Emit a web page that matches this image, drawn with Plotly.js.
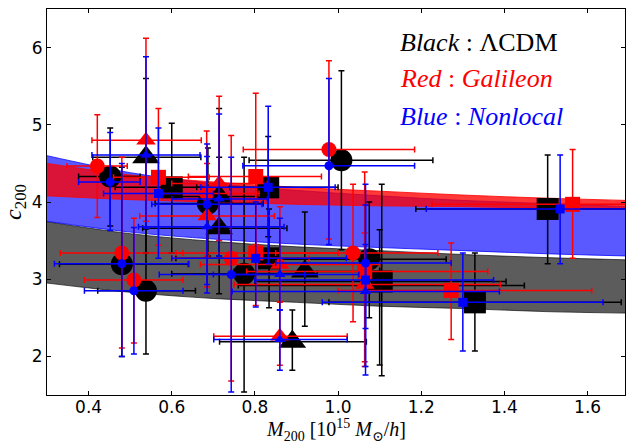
<!DOCTYPE html>
<html>
<head>
<meta charset="utf-8">
<script src="https://cdn.plot.ly/plotly-3.0.1.min.js"></script>
<style>html,body{margin:0;padding:0;background:#fff;}#chart{width:626px;height:445px;}</style>
</head>
<body>
<div id="chart"></div>
<script>
// ---- Model bands (c200 vs M200) ----
const bandX = [0.3, 0.5, 0.7, 0.9, 1.1, 1.3, 1.5, 1.7];
const lcdmLow = [2.95, 2.83, 2.75, 2.70, 2.65, 2.62, 2.58, 2.56];
const lcdmHigh = [3.745, 3.59, 3.49, 3.42, 3.37, 3.32, 3.28, 3.25];
const nonlocalLow = [3.75, 3.61, 3.52, 3.455, 3.41, 3.37, 3.33, 3.30];
const nonlocalHigh = [4.60, 4.38, 4.24, 4.15, 4.08, 4.02, 3.98, 3.94];
const galileonLow = [4.08, 4.03, 4.00, 3.97, 3.95, 3.94, 3.92, 3.91];
const galileonHigh = [4.50, 4.35, 4.26, 4.19, 4.14, 4.09, 4.05, 4.02];

// ---- Circle clusters ----
const circBlackX = [0.452, 0.480, 0.538, 0.687, 1.008, 0.774, 1.075];
const circBlackY = [4.33, 3.195, 2.85, 3.98, 4.54, 3.07, 3.26];
const circBlackXlo = [0.376, 0.33, 0.422, 0.56, 0.786, 0.60, 0.86];
const circBlackXhi = [0.524, 0.64, 0.657, 0.82, 1.228, 0.95, 1.26];
const circBlackYlo = [3.69, 2.0, 2.03, 3.3, 3.38, 1.54, 2.5];
const circBlackYhi = [4.96, 4.45, 3.65, 4.7, 5.70, 4.58, 4.0];

const circRedX = [0.421, 0.480, 0.509, 0.684, 0.978, 0.743, 1.036];
const circRedY = [4.465, 3.34, 2.99, 4.11, 4.68, 3.27, 3.34];
const circRedXlo = [0.348, 0.332, 0.39, 0.57, 0.772, 0.60, 0.85];
const circRedXhi = [0.493, 0.627, 0.627, 0.81, 1.184, 0.93, 1.24];
const circRedYlo = [3.80, 2.11, 2.175, 3.3, 3.52, 1.68, 2.45];
const circRedYhi = [5.13, 4.58, 3.79, 4.92, 5.83, 4.86, 4.23];

const circBlueX = [0.452, 0.480, 0.509, 0.685, 0.978, 0.743, 1.066];
const circBlueY = [4.26, 3.2, 2.85, 3.97, 4.47, 3.06, 3.21];
const circBlueXlo = [0.376, 0.318, 0.39, 0.552, 0.771, 0.57, 0.85];
const circBlueXhi = [0.524, 0.641, 0.627, 0.817, 1.184, 0.92, 1.272];
const circBlueYlo = [3.63, 2.0, 2.03, 2.93, 3.45, 1.54, 2.36];
const circBlueYhi = [4.90, 4.5, 3.67, 4.75, 5.60, 4.58, 4.23];

// ---- Square clusters ----
const sqBlackX = [0.600, 0.832, 0.834, 1.105, 1.329, 1.504];
const sqBlackY = [4.19, 4.19, 3.27, 2.97, 2.70, 3.91];
const sqBlackXlo = [0.464, 0.66, 0.61, 0.80, 0.978, 1.187];
const sqBlackXhi = [0.74, 1.0, 1.06, 1.404, 1.681, 1.8];
const sqBlackYlo = [3.34, 3.55, 2.63, 1.75, 2.07, 3.20];
const sqBlackYhi = [5.02, 4.85, 3.91, 4.23, 3.34, 4.61];

const sqRedX = [0.568, 0.802, 0.802, 1.064, 1.272, 1.564];
const sqRedY = [4.32, 4.33, 3.34, 3.10, 2.855, 3.97];
const sqRedXlo = [0.46, 0.64, 0.61, 0.78, 1.0, 1.226];
const sqRedXhi = [0.69, 0.96, 1.0, 1.36, 1.61, 1.8];
const sqRedYlo = [3.44, 3.45, 2.66, 1.93, 2.22, 3.27];
const sqRedYhi = [5.21, 5.41, 4.3, 4.39, 3.47, 4.68];

const sqBlueX = [0.568, 0.832, 0.802, 1.066, 1.300, 1.534];
const sqBlueY = [4.11, 4.19, 3.27, 2.99, 2.70, 3.91];
const sqBlueXlo = [0.436, 0.67, 0.6, 0.80, 0.962, 1.212];
const sqBlueXhi = [0.70, 0.993, 1.02, 1.374, 1.637, 1.8];
const sqBlueYlo = [3.27, 3.2, 2.64, 1.87, 2.07, 3.20];
const sqBlueYhi = [4.96, 5.24, 4.0, 3.96, 3.34, 4.61];

// ---- Triangle clusters ----
const triBlackX = [0.538, 0.714, 0.714, 0.920, 0.890, 1.100];
const triBlackY = [4.58, 4.07, 3.66, 3.10, 2.19, 2.92];
const triBlackXlo = [0.41, 0.6, 0.53, 0.75, 0.715, 0.76];
const triBlackXhi = [0.67, 0.83, 0.877, 1.1, 1.068, 1.448];
const triBlackYlo = [3.34, 3.3, 2.81, 2.39, 1.82, 1.89];
const triBlackYhi = [5.6, 5.21, 4.58, 3.87, 2.60, 3.64];

const triRedX = [0.538, 0.714, 0.685, 0.860, 0.860, 1.064];
const triRedY = [4.80, 4.24, 3.82, 3.19, 2.26, 2.93];
const triRedXlo = [0.408, 0.6, 0.523, 0.669, 0.701, 0.75];
const triRedXhi = [0.671, 0.83, 0.847, 1.1, 1.022, 1.39];
const triRedYlo = [3.75, 3.5, 2.9, 2.71, 1.885, 1.87];
const triRedYhi = [6.12, 5.37, 4.5, 3.94, 2.7, 3.6];

const triBlueX = [0.538, 0.714, 0.685, 0.860, 0.860, 1.066];
const triBlueY = [4.61, 4.04, 3.68, 3.06, 2.22, 2.84];
const triBlueXlo = [0.408, 0.6, 0.52, 0.7, 0.701, 0.745];
const triBlueXhi = [0.668, 0.83, 0.87, 1.05, 1.022, 1.388];
const triBlueYlo = [3.66, 3.3, 2.82, 2.60, 1.82, 1.76];
const triBlueYhi = [5.88, 5.14, 4.59, 3.79, 2.60, 3.45];

const xTicks = [0.4, 0.6, 0.8, 1.0, 1.2, 1.4, 1.6];
const yTicks = [2, 3, 4, 5, 6];

const diff = (a, b) => a.map((v, i) => v - b[i]);

function pts(x, y, xlo, xhi, ylo, yhi, color, symbol, size) {
  return {
    type: 'scatter', mode: 'markers', x: x, y: y, showlegend: false, hoverinfo: 'skip',
    marker: {color: color, symbol: symbol, size: size, line: {width: 0}},
    error_x: {type: 'data', symmetric: false, array: diff(xhi, x), arrayminus: diff(x, xlo),
              color: color, thickness: 1.5, width: 3},
    error_y: {type: 'data', symmetric: false, array: diff(yhi, y), arrayminus: diff(y, ylo),
              color: color, thickness: 1.5, width: 3}
  };
}

function band(lo, hi, fill, edge) {
  return [
    {type: 'scatter', mode: 'lines', x: bandX, y: lo, line: {color: edge, width: 1, shape: 'spline'},
     showlegend: false, hoverinfo: 'skip'},
    {type: 'scatter', mode: 'lines', x: bandX, y: hi, fill: 'tonexty', fillcolor: fill,
     line: {color: edge, width: 1, shape: 'spline'}, showlegend: false, hoverinfo: 'skip'}
  ];
}

const BLACK = '#000000', RED = '#ff0000', BLUE = '#0000ff';

const data = [].concat(
  band(lcdmLow, lcdmHigh, 'rgba(0,0,0,0.64)', 'rgba(0,0,0,0.64)'),
  band(nonlocalLow, nonlocalHigh, 'rgba(0,0,255,0.65)', 'rgba(0,0,255,0.75)'),
  band(galileonLow, galileonHigh, 'rgba(255,0,0,0.78)', 'rgba(255,0,0,0.8)'),
  [
    pts(circBlackX, circBlackY, circBlackXlo, circBlackXhi, circBlackYlo, circBlackYhi, BLACK, 'circle', 22),
    pts(sqBlackX, sqBlackY, sqBlackXlo, sqBlackXhi, sqBlackYlo, sqBlackYhi, BLACK, 'square', 22),
    pts(triBlackX, triBlackY, triBlackXlo, triBlackXhi, triBlackYlo, triBlackYhi, BLACK, 'triangle-up', 24),
    pts(circRedX, circRedY, circRedXlo, circRedXhi, circRedYlo, circRedYhi, RED, 'circle', 15),
    pts(sqRedX, sqRedY, sqRedXlo, sqRedXhi, sqRedYlo, sqRedYhi, RED, 'square', 15),
    pts(triRedX, triRedY, triRedXlo, triRedXhi, triRedYlo, triRedYhi, RED, 'triangle-up', 17),
    pts(circBlueX, circBlueY, circBlueXlo, circBlueXhi, circBlueYlo, circBlueYhi, BLUE, 'circle', 9),
    pts(sqBlueX, sqBlueY, sqBlueXlo, sqBlueXhi, sqBlueYlo, sqBlueYhi, BLUE, 'square', 9),
    pts(triBlueX, triBlueY, triBlueXlo, triBlueXhi, triBlueYlo, triBlueYhi, BLUE, 'triangle-up', 10)
  ]
);

const serif = 'Liberation Serif, DejaVu Serif, serif';
const axisCommon = {
  showline: true, linecolor: '#000', linewidth: 1, mirror: 'ticks',
  ticks: 'inside', ticklen: 4, tickwidth: 1, tickcolor: '#000',
  showgrid: false, zeroline: false,
  tickfont: {family: 'DejaVu Sans, sans-serif', size: 17, color: '#000'}
};

const layout = {
  width: 626, height: 445,
  margin: {l: 47, r: 1, t: 9, b: 50},
  paper_bgcolor: '#fff', plot_bgcolor: '#fff',
  xaxis: Object.assign({}, axisCommon, {
    range: [0.3, 1.69], tickvals: xTicks, ticktext: xTicks.map(v => v.toFixed(1)),
    ticklabelstandoff: -3
  }),
  yaxis: Object.assign({}, axisCommon, {
    range: [1.5, 6.5], tickvals: yTicks, ticktext: yTicks.map(String),
    title: {text: '<i>c</i><sub>200</sub>', font: {family: serif, size: 24, color: '#000'}, standoff: 4}
  }),
  annotations: [
    {xref: 'paper', yref: 'paper', x: 0.5, y: -0.132, xanchor: 'center', yanchor: 'bottom', showarrow: false,
     text: '<i>M</i><sub>200</sub> [10<sup>15</sup> <i>M</i><sub>⊙</sub>/<i>h</i>]',
     font: {family: serif, size: 20, color: '#000'}},
    {xref: 'paper', yref: 'paper', x: 0.607, y: 0.914, xanchor: 'left', yanchor: 'middle', showarrow: false,
     text: '<i>Black</i> : ΛCDM', font: {family: serif, size: 26, color: BLACK}},
    {xref: 'paper', yref: 'paper', x: 0.607, y: 0.820, xanchor: 'left', yanchor: 'middle', showarrow: false,
     text: '<i>Red</i> : <i>Galileon</i>', font: {family: serif, size: 26, color: RED}},
    {xref: 'paper', yref: 'paper', x: 0.607, y: 0.722, xanchor: 'left', yanchor: 'middle', showarrow: false,
     text: '<i>Blue</i> : <i>Nonlocal</i>', font: {family: serif, size: 26, color: BLUE}}
  ]
};

Plotly.newPlot('chart', data, layout, {staticPlot: true, displayModeBar: false});
</script>
</body>
</html>
